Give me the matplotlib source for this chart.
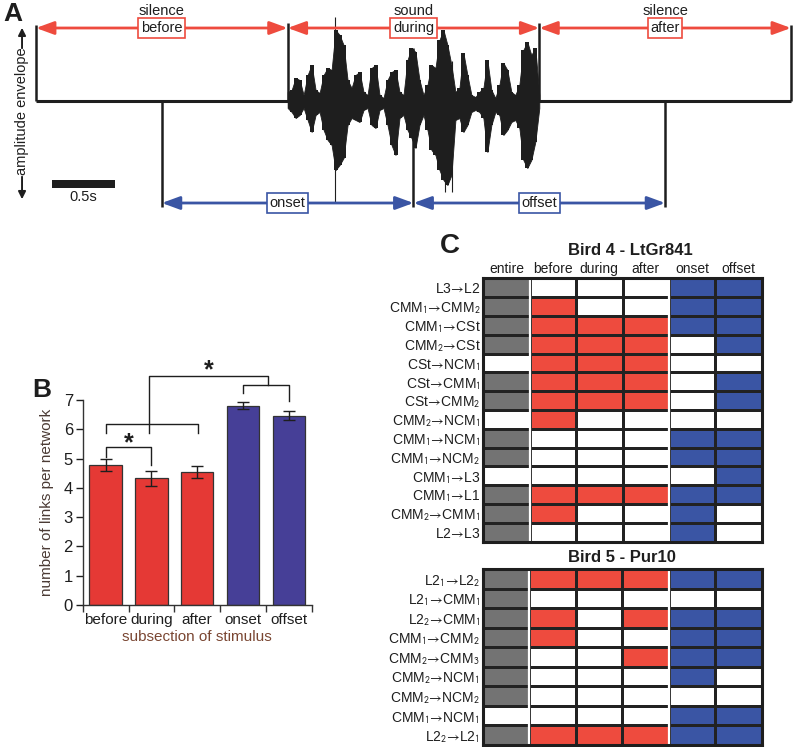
import numpy as np
import matplotlib
matplotlib.use("Agg")
import matplotlib.pyplot as plt
from matplotlib.colors import ListedColormap
from matplotlib.patches import Rectangle

plt.rcParams["font.family"] = ["Liberation Sans", "DejaVu Sans"]
plt.rcParams["mathtext.fontset"] = "stixsans"

RED = "#EE4B3E"
BLUE = "#3A55A4"
GRAY = "#737373"
BAR_RED = "#E53935"
BAR_BLUE = "#463F97"
INK = "#1e1e1e"

# ---- panel A: stimulus timeline (2 s per period) ----
period_edges = [0.0, 2.0, 4.0, 6.0]
period_top = ["silence", "sound", "silence"]
period_names = ["before", "during", "after"]
window_edges = [1.0, 3.0, 5.0]
window_names = ["onset", "offset"]

# amplitude envelope of the song (arbitrary units)
env_t = np.linspace(2.0, 4.0, 64)
env_up = [9, 11, 23, 21, 6, 26, 36, 11, 8, 26, 33, 31, 71, 66, 56, 21,
          13, 26, 29, 9, 6, 33, 36, 6, 3, 21, 29, 31, 9, 6, 41, 53,
          49, 21, 6, 16, 36, 33, 61, 71, 56, 36, 9, 13, 48, 26, 6, 4,
          9, 13, 41, 11, 3, 16, 38, 31, 9, 6, 16, 51, 59, 46, 53, 6]
env_lo = [-7, -11, -17, -14, -7, -19, -31, -14, -11, -29, -39, -44, -69, -64, -57, -24,
          -17, -19, -21, -9, -7, -24, -27, -9, -7, -24, -44, -54, -17, -14, -29, -37,
          -47, -24, -14, -29, -49, -54, -69, -79, -84, -74, -19, -17, -31, -24, -11, -9,
          -11, -17, -51, -24, -11, -14, -34, -29, -21, -19, -27, -59, -67, -59, -41, -7]
spike_t = [2.376, 3.253, 3.306]
spike_up = [84, 30, 40]
spike_lo = [-101, -91, -91]

# ---- panel B ----
conditions = ["before", "during", "after", "onset", "offset"]
links_mean = [4.78, 4.32, 4.53, 6.81, 6.47]
links_sem = [0.19, 0.24, 0.21, 0.13, 0.16]

# ---- panel C ----
columns = ["entire", "before", "during", "after", "onset", "offset"]
bird4_links = ["L3→L2", "CMM₁→CMM₂", "CMM₁→CSt", "CMM₂→CSt", "CSt→NCM₁",
               "CSt→CMM₁", "CSt→CMM₂", "CMM₂→NCM₁", "CMM₁→NCM₁", "CMM₁→NCM₂",
               "CMM₁→L3", "CMM₁→L1", "CMM₂→CMM₁", "L2→L3"]
bird4_cells = ["GWWWBB", "GRWWBB", "GRRRBB", "GRRRWB", "WRRRWW",
               "GRRRWB", "GRRRWB", "WRWWWW", "GWWWBB", "GWWWBB",
               "WWWWWB", "GRRRBB", "GRWWBW", "GWWWBW"]
bird5_links = ["L2₁→L2₂", "L2₁→CMM₁", "L2₂→CMM₁", "CMM₁→CMM₂", "CMM₂→CMM₃",
               "CMM₂→NCM₁", "CMM₂→NCM₂", "CMM₁→NCM₁", "L2₂→L2₁"]
bird5_cells = ["GRRRBB", "GWWWWW", "GRWRBB", "GRWWBB", "GWWRBB",
               "GWWWBW", "GWWWWW", "WWWWBB", "GRRRBB"]

W, H = 794, 747
fig = plt.figure(figsize=(W / 100, H / 100), dpi=100)


def px_rect(x0, y0, x1, y1):
    return [x0 / W, 1 - y1 / H, (x1 - x0) / W, (y1 - y0) / H]


def as_math(label):
    out = label.replace("→", r"$\!\rightarrow\!$")
    for sub, d in zip("₁₂₃", "123"):
        out = out.replace(sub, "$_{%s}$" % d)
    return out


# ================= A =================
ax = fig.add_axes(px_rect(0, 0, W, 215))
ax.set_xlim(-36 / 125.83, (W - 36) / 125.83)
ax.set_ylim(-114, 101)
ax.set_axis_off()

ax.fill_between(env_t, env_lo, env_up, color=INK, lw=0.6, edgecolor=INK, zorder=2)
ax.fill_between(env_t, env_lo, env_up, step="mid", color=INK, lw=0, zorder=2)
ax.vlines(spike_t, spike_lo, spike_up, color=INK, lw=0.8, zorder=2)
ax.hlines(0, period_edges[0], period_edges[-1], color=INK, lw=2.2, zorder=2)

ax.vlines(period_edges, 0, [76, 78, 78, 76], color=INK, lw=1.8, zorder=3)
ax.vlines(window_edges, [0, 53, 0], -106, color=INK, lw=1.8, zorder=3)

arrow_kw = dict(arrowstyle="<|-|>,head_length=0.6,head_width=0.22",
                lw=2.0, mutation_scale=18, shrinkA=0, shrinkB=0)
for i, name in enumerate(period_names):
    t0, t1 = period_edges[i], period_edges[i + 1]
    ax.annotate("", xy=(t1, 73), xytext=(t0, 73),
                arrowprops=dict(color=RED, **arrow_kw), zorder=4)
    ax.text((t0 + t1) / 2, 73, name, ha="center", va="center", fontsize=10.5,
            color=INK, zorder=5,
            bbox=dict(boxstyle="square,pad=0.18", fc="white", ec=RED, lw=1.2))
    ax.text((t0 + t1) / 2, 90, period_top[i], ha="center", va="center",
            fontsize=10.5, color=INK)
for i, name in enumerate(window_names):
    t0, t1 = window_edges[i], window_edges[i + 1]
    ax.annotate("", xy=(t1, -102), xytext=(t0, -102),
                arrowprops=dict(color=BLUE, **arrow_kw), zorder=4)
    ax.text((t0 + t1) / 2, -102, name, ha="center", va="center", fontsize=10.5,
            color=INK, zorder=5,
            bbox=dict(boxstyle="square,pad=0.18", fc="white", ec=BLUE, lw=1.2))

# scale bar 0.5 s
ax.add_patch(Rectangle((0.127, -87), 0.5, 8, color=INK, lw=0))
ax.text(0.377, -96, "0.5s", ha="center", va="center", fontsize=10.5, color=INK)

# y label with arrows
ax.text(-0.111, -10, "amplitude envelope", rotation=90, ha="center",
        va="center", fontsize=10.5, color=INK)
ax.annotate("", xy=(-0.111, 76), xytext=(-0.111, 50),
            arrowprops=dict(arrowstyle="-|>", color=INK, lw=1.4, mutation_scale=11))
ax.annotate("", xy=(-0.111, -101), xytext=(-0.111, -73),
            arrowprops=dict(arrowstyle="-|>", color=INK, lw=1.4, mutation_scale=11))

fig.text(3 / W, 1 - 2 / H, "A", fontsize=19, fontweight="bold", va="top", color=INK)

# ================= B =================
axb = fig.add_axes(px_rect(82.7, 400, 311.7, 605))
x = np.arange(len(conditions))
axb.bar(x, links_mean, width=0.71, color=[BAR_RED] * 3 + [BAR_BLUE] * 2,
        edgecolor="#333333", lw=0.9, zorder=2)
axb.errorbar(x, links_mean, yerr=links_sem, fmt="none", ecolor=INK,
             elinewidth=1.0, capsize=4, capthick=1.0, zorder=3)
axb.set_xlim(-0.5, 4.5)
axb.set_ylim(0, 7)
axb.spines[["top", "right"]].set_visible(False)
for s in ("left", "bottom"):
    axb.spines[s].set_color("#333333")
    axb.spines[s].set_linewidth(1.0)
axb.set_yticks(range(8))
axb.set_xticks(x, conditions)
axb.set_xticks(np.arange(-0.5, 5), minor=True)
axb.tick_params(axis="x", which="major", length=0, pad=6, labelsize=11, colors=INK)
axb.tick_params(axis="x", which="minor", length=5, width=1.0, color="#333333")
axb.tick_params(axis="y", length=5, width=1.0, pad=2, labelsize=12, colors=INK)
axb.set_xlabel("subsection of stimulus", fontsize=11, color="#7a4632", labelpad=2)
axb.set_ylabel("number of links per network", fontsize=11, color="#4a3a34", labelpad=7)

bk = dict(color=INK, lw=1.0, clip_on=False)
axb.plot([0, 0, 0.99, 0.99], [5.06, 5.40, 5.40, 4.78], **bk)
axb.plot([0, 0, 2.02, 2.02], [5.88, 6.18, 6.18, 5.88], **bk)
axb.plot([0.95, 0.95, 3.55, 3.55], [5.88, 7.82, 7.82, 7.51], **bk)
axb.plot([3.0, 3.0, 4.0, 4.0], [7.24, 7.51, 7.51, 6.97], **bk)
axb.text(0.5, 5.10, "*", ha="center", va="bottom", fontsize=18, fontweight="bold", color=INK)
axb.text(2.26, 7.60, "*", ha="center", va="bottom", fontsize=18, fontweight="bold", color=INK)

fig.text(32 / W, 1 - 378 / H, "B", fontsize=19, fontweight="bold", va="top", color=INK)

# ================= C =================
codes = {"W": 0, "G": 1, "R": 2, "B": 3}
cmap = ListedColormap(["white", GRAY, RED, BLUE])


def draw_table(ax, links, cells, header):
    grid = np.array([[codes[c] for c in row] for row in cells])
    ax.pcolormesh(grid, cmap=cmap, vmin=-0.5, vmax=3.5,
                  edgecolors="#222222", linewidth=0.8)
    ax.set_xlim(0, 6)
    ax.set_ylim(len(links), 0)
    for xb in (1, 4):
        ax.axvline(xb, color="white", lw=1.6)
    ax.set_yticks(np.arange(len(links)) + 0.5, [as_math(s) for s in links],
                  fontsize=10, color=INK)
    ax.tick_params(axis="y", length=0, pad=2)
    if header:
        ax.xaxis.tick_top()
        ax.set_xticks(np.arange(6) + 0.5, columns, fontsize=10, color=INK)
        ax.tick_params(axis="x", length=0, pad=1.5)
    else:
        ax.set_xticks([])
    for s in ax.spines.values():
        s.set_linewidth(2.2)
        s.set_color(INK)


axc1 = fig.add_axes(px_rect(483.3, 278.3, 761.7, 541.7))
draw_table(axc1, bird4_links, bird4_cells, True)
axc2 = fig.add_axes(px_rect(482.7, 569.3, 761.7, 745))
draw_table(axc2, bird5_links, bird5_cells, False)

fig.text(568 / W, 1 - 251 / H, "Bird 4 - LtGr841", fontsize=12, fontweight="bold",
         ha="left", va="center", color=INK)
fig.text(568 / W, 1 - 557 / H, "Bird 5 - Pur10", fontsize=12, fontweight="bold",
         ha="left", va="center", color=INK)
fig.text(440 / W, 1 - 233 / H, "C", fontsize=20, fontweight="bold", va="top", color=INK)

fig.savefig("out.png", dpi=100, facecolor="white")
